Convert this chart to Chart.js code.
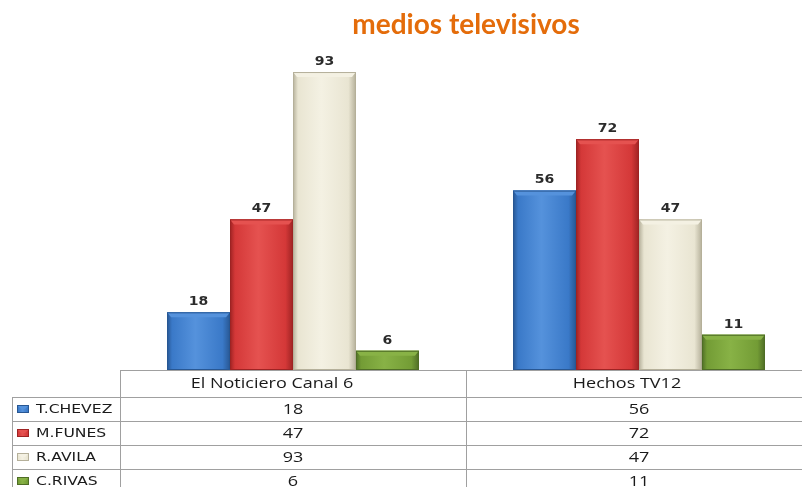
<!DOCTYPE html>
<html>
<head>
<meta charset="utf-8">
<script src="https://cdn.jsdelivr.net/npm/chart.js@4"></script>
<style>
  html, body { margin: 0; padding: 0; background: #fff; overflow: hidden; }
  #grafico { display: block; }
</style>
</head>
<body>
<canvas id="grafico" width="816" height="487"></canvas>
<script>
// datos del grafico
const categorias = ['El Noticiero Canal 6', 'Hechos TV12'];
const candidatos = ['T.CHEVEZ', 'M.FUNES', 'R.AVILA', 'C.RIVAS'];
const tChevez = [18, 56];
const mFunes = [47, 72];
const rAvila = [93, 47];
const cRivas = [6, 11];
const valores = [tChevez, mFunes, rAvila, cRivas];

// colores de cada serie: base, claro, oscuro
const colores = [
    ['#3a79c8', '#5592dc', '#285793'],
    ['#d43838', '#e55250', '#9e2323'],
    ['#e9e5d2', '#f4f1e3', '#b5b09a'],
    ['#739c35', '#88b246', '#4f6d26']
];

// dibuja una barra con efecto de bisel
function pintarBarra(ctx, x, y, w, h, c) {
    const left = x - w / 2;
    const g = ctx.createLinearGradient(left, 0, left + w, 0);
    g.addColorStop(0, c[2]);
    g.addColorStop(0.08, c[0]);
    g.addColorStop(0.45, c[1]);
    g.addColorStop(0.88, c[0]);
    g.addColorStop(1, c[2]);
    ctx.fillStyle = g;
    ctx.fillRect(left, y, w, h);
    // bisel de arriba
    const b = Math.min(5, h / 2);
    ctx.fillStyle = c[1];
    ctx.beginPath();
    ctx.moveTo(left, y);
    ctx.lineTo(left + w, y);
    ctx.lineTo(left + w - 4, y + b);
    ctx.lineTo(left + 4, y + b);
    ctx.closePath();
    ctx.fill();
    ctx.strokeStyle = c[2];
    ctx.lineWidth = 1;
    ctx.strokeRect(left + 0.5, y + 0.5, w - 1, h - 1);
}

// texto un poco estirado a lo ancho, como en la imagen
function textoAncho(ctx, t, x, y, escala) {
    ctx.save();
    ctx.translate(x, y);
    ctx.scale(escala, 1);
    ctx.fillText(t, 0, 0);
    ctx.restore();
}

const barras3d = {
    id: 'barras3d',
    afterDatasetsDraw(chart) {
        const ctx = chart.ctx;
        ctx.save();
        chart.data.datasets.forEach((ds, i) => {
            const meta = chart.getDatasetMeta(i);
            meta.data.forEach((bar, j) => {
                const p = bar.getProps(['x', 'y', 'base', 'width'], true);
                pintarBarra(ctx, p.x, p.y, p.width, p.base - p.y, colores[i]);
                // etiqueta del valor
                ctx.fillStyle = '#2b2b2b';
                ctx.font = 'bold 13px "DejaVu Sans"';
                ctx.textAlign = 'center';
                ctx.textBaseline = 'bottom';
                textoAncho(ctx, ds.data[j], p.x, p.y - 4, 1.08);
            });
        });
        ctx.restore();
    }
};

// tabla de datos debajo del grafico
const tablaDatos = {
    id: 'tablaDatos',
    afterDraw(chart) {
        const ctx = chart.ctx;
        const xs = chart.scales.x;
        const area = chart.chartArea;
        const ancho = xs.width / categorias.length;
        const filas = [370, 397, 421, 445, 469, 493];
        const izq = 12;
        const der = area.right;
        ctx.save();
        ctx.strokeStyle = '#a0a0a0';
        ctx.lineWidth = 1;
        ctx.beginPath();
        // linea de arriba y columnas
        ctx.moveTo(area.left, filas[0] + 0.5);
        ctx.lineTo(der, filas[0] + 0.5);
        for (let r = 1; r < filas.length; r++) {
            ctx.moveTo(izq, filas[r] + 0.5);
            ctx.lineTo(der, filas[r] + 0.5);
        }
        ctx.moveTo(izq + 0.5, filas[1]);
        ctx.lineTo(izq + 0.5, filas[filas.length - 1]);
        ctx.moveTo(area.left + 0.5, filas[0]);
        ctx.lineTo(area.left + 0.5, filas[filas.length - 1]);
        categorias.forEach((c, i) => {
            const xr = Math.round(xs.getPixelForValue(i) + ancho / 2) + 0.5;
            ctx.moveTo(xr, filas[0]);
            ctx.lineTo(xr, filas[filas.length - 1]);
        });
        ctx.stroke();

        ctx.fillStyle = '#1a1a1a';
        ctx.textBaseline = 'middle';
        ctx.textAlign = 'center';
        ctx.font = '15px "Open Sans"';
        // los encabezados quedan algo a la izquierda en la imagen
        const corrimiento = [-21, -12];
        categorias.forEach((c, i) => {
            const cx = xs.getPixelForValue(i);
            textoAncho(ctx, c, cx + corrimiento[i], (filas[0] + filas[1]) / 2, 1.2);
            valores.forEach((serie, k) => {
                textoAncho(ctx, serie[i], cx, (filas[k + 1] + filas[k + 2]) / 2 + 1, 1.2);
            });
        });

        // nombres con su marca de color
        candidatos.forEach((n, k) => {
            const cy = (filas[k + 1] + filas[k + 2]) / 2;
            pintarBarra(ctx, 23, cy - 4, 12, 8, colores[k]);
            ctx.fillStyle = '#1a1a1a';
            ctx.textAlign = 'left';
            ctx.font = '13px "DejaVu Sans"';
            textoAncho(ctx, n, 36, cy + 1, 1.2);
        });
        ctx.restore();
    }
};

const ctx = document.getElementById('grafico');
const grafico = new Chart(ctx, {
    type: 'bar',
    data: {
        labels: categorias,
        datasets: candidatos.map((n, i) => ({
            label: n,
            data: valores[i],
            backgroundColor: colores[i][0],
            borderWidth: 0
        }))
    },
    options: {
        responsive: false,
        animation: false,
        devicePixelRatio: 1,
        layout: { padding: { left: 120, right: 4, top: 0, bottom: 117 } },
        datasets: { bar: { categoryPercentage: 0.728, barPercentage: 1 } },
        plugins: {
            legend: { display: false },
            tooltip: { enabled: false },
            title: {
                display: true,
                text: 'medios televisivos',
                color: '#e46c0a',
                font: { family: 'Lato', size: 28, weight: 'bold' },
                padding: { top: 8, bottom: 8 }
            }
        },
        scales: {
            x: { display: false },
            y: { display: false, min: 0, max: 100 }
        }
    },
    plugins: [barras3d, tablaDatos]
});
</script>
</body>
</html>
